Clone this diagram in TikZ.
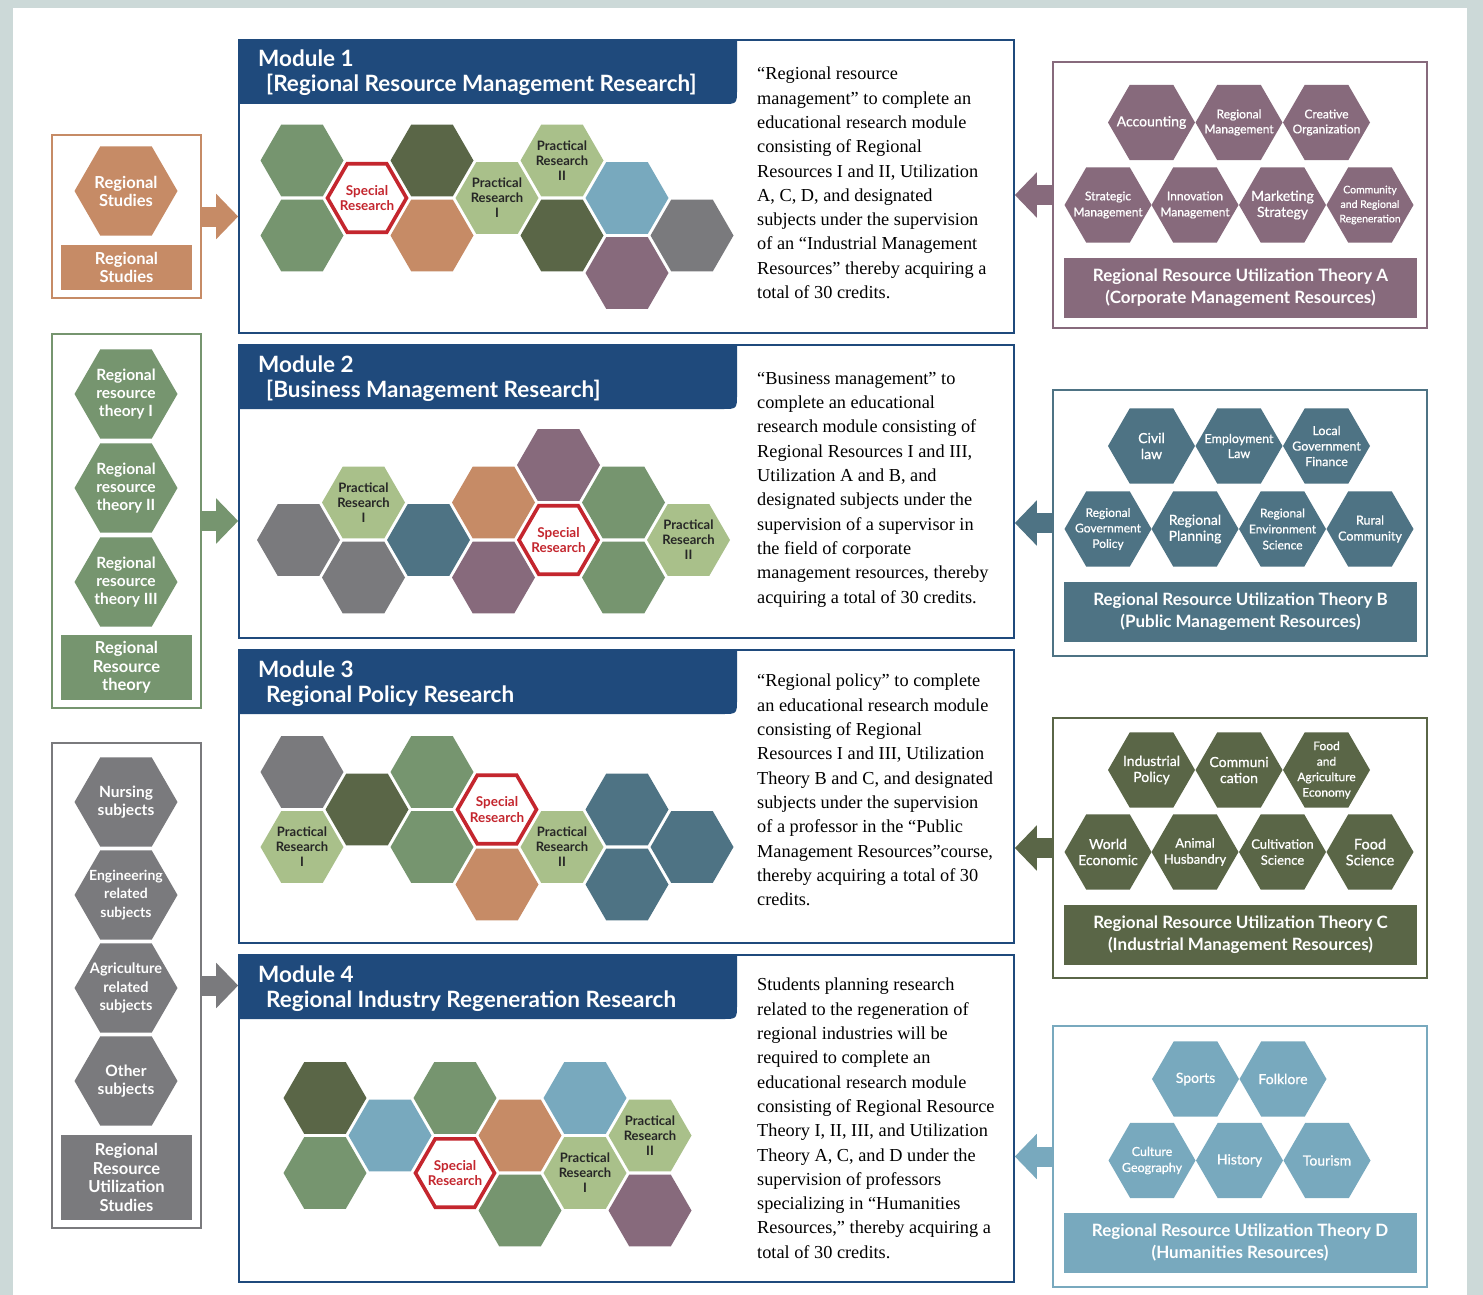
\documentclass[tikz,border=0pt]{standalone}
\usepackage{fontspec}
\setmainfont{Lato}
\newfontfamily\serifbody{Liberation Serif}
\newfontfamily\latomid{Lato}[FakeBold=0.8]
\usetikzlibrary{shapes.geometric,arrows.meta,positioning}

\definecolor{pagebg}{HTML}{CCD9D8}
\definecolor{modblue}{HTML}{1F4A7C}
\definecolor{hgreen}{HTML}{76956F}
\definecolor{holive}{HTML}{5A6647}
\definecolor{horange}{HTML}{C68B66}
\definecolor{hlight}{HTML}{A9C08A}
\definecolor{hsky}{HTML}{78A9BE}
\definecolor{hsteel}{HTML}{4E7384}
\definecolor{hplum}{HTML}{876A7C}
\definecolor{hgrey}{HTML}{7A7A7D}
\definecolor{hred}{HTML}{C4262E}

% blue module header with one rounded corner
\newcommand{\modhead}[4]{%
  \fill[modblue] (239,#2) -- (737,#2) -- (737,{#2+49})
    .. controls (737,{#2+64}) .. (722,{#2+64}) -- (239,{#2+64}) -- cycle;
  \node[modtitle] (#1a) at (258,{#2+27}) {#3};
  \node[modtitle] (#1b) at (266,{#2+52}) {#4};}

\begin{document}
\begin{tikzpicture}[x=1pt,y=-1pt,
  modbox/.style={draw=modblue, line width=1.6pt, minimum width=775pt, inner sep=0pt},
  panelbox/.style={line width=2pt, minimum width=374pt, inner sep=0pt},
  sidebox/.style={line width=2pt, minimum width=149pt, inner sep=0pt},
  hexa/.style={regular polygon, regular polygon sides=6, inner sep=0pt, outer sep=0pt},
  modhex/.style={hexa, minimum size=83pt},
  spechex/.style={hexa, minimum size=79pt, fill=white, draw=hred, line width=3.6pt},
  righthex/.style={hexa, minimum size=87pt},
  lefthex/.style={hexa, minimum size=103pt},
  prtext/.style={align=center, text=black!85, font=\bfseries\fontsize{13}{15}\selectfont},
  sptext/.style={align=center, text=hred, font=\bfseries\fontsize{13.5}{15.5}\selectfont},
  whitetext/.style={align=center, text=white},
  capbox/.style={minimum width=353pt, minimum height=60pt, inner sep=0pt, align=center,
    text=white, font=\bfseries\fontsize{17}{22}\selectfont},
  leftcap/.style={minimum width=131pt, inner sep=0pt, align=center, text=white,
    font=\bfseries\fontsize{16.5}{18.7}\selectfont},
  modtitle/.style={anchor=base west, inner sep=0pt, text=white, font=\bfseries\fontsize{22.5}{25}\selectfont},
  bodytext/.style={anchor=north west, inner sep=0pt, align=left, font=\serifbody\fontsize{18.3}{24.3}\selectfont},
  blockarrow/.style={line width=20pt, -{Triangle[length=22pt,width=44pt]}},
]
\fill[pagebg] (0,0) rectangle (1483,1295);
\fill[white] (13,8) rectangle (1467,1295);
\useasboundingbox (0,0) rectangle (1483,1295);

% modules
\node[modbox, minimum height=293pt] (mod1) at (626.5,186.5) {};
\node[modbox, minimum height=293pt] (mod2) at (626.5,491.5) {};
\node[modbox, minimum height=293pt] (mod3) at (626.5,796.5) {};
\node[modbox, minimum height=327pt] (mod4) at (626.5,1118.5) {};
\modhead{mod1}{40}{Module 1}{[Regional Resource Management Research]}
\modhead{mod2}{345}{Module 2}{[Business Management Research]}
\modhead{mod3}{650}{Module 3}{Regional Policy Research}
\modhead{mod4}{955}{Module 4}{Regional Industry Regeneration Research}

\node[bodytext] (mod1txt) at (757,67) {“Regional resource\\management” to complete an\\educational research module\\consisting of Regional\\Resources I and II, Utilization\\A, C, D, and designated\\subjects under the supervision\\of an “Industrial Management\\Resources” thereby acquiring a\\total of 30 credits.};
\node[bodytext] (mod2txt) at (757,372) {“Business management” to\\complete an educational\\research module consisting of\\Regional Resources I and III,\\Utilization A and B, and\\designated subjects under the\\supervision of a supervisor in\\the field of corporate\\management resources, thereby\\acquiring a total of 30 credits.};
\node[bodytext] (mod3txt) at (757,674) {“Regional policy” to complete\\an educational research module\\consisting of Regional\\Resources I and III, Utilization\\Theory B and C, and designated\\subjects under the supervision\\of a professor in the “Public\\Management Resources”course,\\thereby acquiring a total of 30\\credits.};
\node[bodytext] (mod4txt) at (757,978) {Students planning research\\related to the regeneration of\\regional industries will be\\required to complete an\\educational research module\\consisting of Regional Resource\\Theory I, II, III, and Utilization\\Theory A, C, and D under the\\supervision of professors\\specializing in “Humanities\\Resources,” thereby acquiring a\\total of 30 credits.};

% module 1 hexagons
\begin{scope}[shift={(302,160.5)}]
  \foreach \c/\r/\hc in {0/0/hgreen, 0/2/hgreen, 2/0/holive, 2/2/horange, 4/2/holive, 5/1/hsky, 5/3/hplum, 6/2/hgrey}
    \node[modhex, fill=\hc] (m1h\c\r) at ({65*\c},{37.5*\r}) {};
  \node[spechex, label={[sptext]center:{Special\\Research}}] (m1sp) at (65,37.5) {};
  \node[modhex, fill=hlight, label={[prtext]center:{Practical\\Research\\I}}] (m1pr1) at (195,37.5) {};
  \node[modhex, fill=hlight, label={[prtext]center:{Practical\\Research\\II}}] (m1pr2) at (260,0) {};
\end{scope}
% module 2 hexagons
\begin{scope}[shift={(298.5,465)}]
  \foreach \c/\r/\hc in {0/2/hgrey, 1/3/hgrey, 2/2/hsteel, 3/1/horange, 3/3/hplum, 4/0/hplum, 5/1/hgreen, 5/3/hgreen}
    \node[modhex, fill=\hc] (m2h\c\r) at ({65*\c},{37.5*\r}) {};
  \node[modhex, fill=hlight, label={[prtext]center:{Practical\\Research\\I}}] (m2pr1) at (65,37.5) {};
  \node[spechex, label={[sptext]center:{Special\\Research}}] (m2sp) at (260,75) {};
  \node[modhex, fill=hlight, label={[prtext]center:{Practical\\Research\\II}}] (m2pr2) at (390,75) {};
\end{scope}
% module 3 hexagons
\begin{scope}[shift={(302,772)}]
  \foreach \c/\r/\hc in {0/0/hgrey, 1/1/holive, 2/0/hgreen, 2/2/hgreen, 3/3/horange, 5/1/hsteel, 5/3/hsteel, 6/2/hsteel}
    \node[modhex, fill=\hc] (m3h\c\r) at ({65*\c},{37.5*\r}) {};
  \node[modhex, fill=hlight, label={[prtext]center:{Practical\\Research\\I}}] (m3pr1) at (0,75) {};
  \node[spechex, label={[sptext]center:{Special\\Research}}] (m3sp) at (195,37.5) {};
  \node[modhex, fill=hlight, label={[prtext]center:{Practical\\Research\\II}}] (m3pr2) at (260,75) {};
\end{scope}
% module 4 hexagons
\begin{scope}[shift={(325,1098)}]
  \foreach \c/\r/\hc in {0/0/holive, 0/2/hgreen, 1/1/hsky, 2/0/hgreen, 3/1/horange, 3/3/hgreen, 4/0/hsky, 5/3/hplum}
    \node[modhex, fill=\hc] (m4h\c\r) at ({65*\c},{37.5*\r}) {};
  \node[spechex, label={[sptext]center:{Special\\Research}}] (m4sp) at (130,75) {};
  \node[modhex, fill=hlight, label={[prtext]center:{Practical\\Research\\I}}] (m4pr1) at (260,75) {};
  \node[modhex, fill=hlight, label={[prtext]center:{Practical\\Research\\II}}] (m4pr2) at (325,37.5) {};
\end{scope}

% right panels
\node[panelbox, draw=hplum, minimum height=266pt] (panA) at (1240,195) {};
\node[panelbox, draw=hsteel, minimum height=266pt] (panB) at (1240,523) {};
\node[panelbox, draw=holive, minimum height=260pt] (panC) at (1240,848) {};
\node[panelbox, draw=hsky, minimum height=261pt] (panD) at (1240,1156.5) {};

\foreach \x/\y/\fs/\bs/\txt [count=\i] in {1151.5/122.5/14/16/{Accounting}, 1239/122.5/12/15/{Regional\\Management},
    1326.5/122.5/12/15/{Creative\\Organization}, 1108/205/12/16/{Strategic\\Management},
    1195/205/12/16/{Innovation\\Management}, 1282.5/205/14/16/{Marketing\\Strategy},
    1370/205/10.5/14.5/{Community\\and Regional\\Regeneration}}
  \node[righthex, fill=hplum, label={[whitetext, font=\latomid\fontsize{\fs}{\bs}\selectfont]center:{\txt}}] (pa\i) at (\x,\y) {};
\foreach \x/\y/\fs/\bs/\txt [count=\i] in {1151.5/446/14/16/{Civil\\law}, 1239/446/12.5/15/{Employment\\Law},
    1326.5/446/12.5/15.5/{Local\\Government\\Finance}, 1108/529/12/15.5/{Regional\\Government\\Policy},
    1195/529/14/16/{Regional\\Planning}, 1282.5/529/12/16/{Regional\\Environment\\Science},
    1370/529/12.5/16/{Rural\\Community}}
  \node[righthex, fill=hsteel, label={[whitetext, font=\latomid\fontsize{\fs}{\bs}\selectfont]center:{\txt}}] (pb\i) at (\x,\y) {};
\foreach \x/\y/\fs/\bs/\txt [count=\i] in {1151.5/770/14/16/{Industrial\\Policy}, 1239/770/14/16/{Communi\\cation},
    1326.5/770/12/15.5/{Food\\and\\Agriculture\\Economy}, 1108/852/14/16/{World\\Economic},
    1195/852/13/16/{Animal\\Husbandry}, 1282.5/852/13/16/{Cultivation\\Science},
    1370/852/14.5/16/{Food\\Science}}
  \node[righthex, fill=holive, label={[whitetext, font=\latomid\fontsize{\fs}{\bs}\selectfont]center:{\txt}}] (pc\i) at (\x,\y) {};
\foreach \x/\y/\fs/\bs/\txt [count=\i] in {1195.5/1079/14/16/{Sports}, 1283/1079/14/16/{Folklore},
    1152/1160.5/12.5/16/{Culture\\Geography}, 1239.5/1160.5/14/16/{History}, 1327/1160.5/14/16/{Tourism}}
  \node[righthex, fill=hsky, label={[whitetext, font=\latomid\fontsize{\fs}{\bs}\selectfont]center:{\txt}}] (pd\i) at (\x,\y) {};

\node[capbox, fill=hplum] (capA) at (1240.5,288) {Regional Resource Utilization Theory A\\(Corporate Management Resources)};
\node[capbox, fill=hsteel] (capB) at (1240.5,612) {Regional Resource Utilization Theory B\\(Public Management Resources)};
\node[capbox, fill=holive] (capC) at (1240.5,934.5) {Regional Resource Utilization Theory C\\(Industrial Management Resources)};
\node[capbox, fill=hsky] (capD) at (1240,1243) {Regional Resource Utilization Theory D\\(Humanities Resources)};

% left column
\node[sidebox, draw=horange, minimum height=163pt] (lbox1) at (126.5,216.5) {};
\node[sidebox, draw=hgreen, minimum height=374pt] (lbox2) at (126.5,521) {};
\node[sidebox, draw=hgrey, minimum height=485pt] (lbox3) at (126.5,985.5) {};

\node[lefthex, fill=horange, label={[whitetext, font=\bfseries\fontsize{16.5}{18}\selectfont]center:{Regional\\Studies}}] (lh1) at (126,191) {};
\foreach \y/\txt [count=\i] in {394/{Regional\\resource\\theory I}, 488/{Regional\\resource\\theory II}, 582/{Regional\\resource\\theory III}}
  \node[lefthex, fill=hgreen, label={[whitetext, font=\bfseries\fontsize{15.5}{18}\selectfont]center:{\txt}}] (lg\i) at (126,\y) {};
\foreach \y/\fs/\txt [count=\i] in {802/15.5/{Nursing\\subjects}, 895/14/{Engineering\\related\\subjects},
    988/14.5/{Agriculture\\related\\subjects}, 1081/15.5/{Other\\subjects}}
  \node[lefthex, fill=hgrey, label={[whitetext, font=\bfseries\fontsize{\fs}{18.5}\selectfont]center:{\txt}}] (lk\i) at (126,\y) {};

\node[leftcap, fill=horange, minimum height=45pt] (lcap1) at (126.5,267.5) {Regional\\Studies};
\node[leftcap, fill=hgreen, minimum height=65pt] (lcap2) at (126.5,667.5) {Regional\\Resource\\theory};
\node[leftcap, fill=hgrey, minimum height=85pt] (lcap3) at (126.5,1177.5) {Regional\\Resource\\Utilization\\Studies};

% block arrows
\draw[blockarrow, horange] (lbox1.east) -- (mod1.west |- lbox1.east);
\draw[blockarrow, hgreen] (lbox2.east) -- (mod2.west |- lbox2.east);
\draw[blockarrow, hgrey] (lbox3.east) -- (mod4.west |- lbox3.east);
\draw[blockarrow, hplum] (panA.west) -- (mod1.east |- panA.west);
\draw[blockarrow, hsteel] (panB.west) -- (mod2.east |- panB.west);
\draw[blockarrow, holive] (panC.west) -- (mod3.east |- panC.west);
\draw[blockarrow, hsky] (panD.west) -- (mod4.east |- panD.west);
\end{tikzpicture}
\end{document}
